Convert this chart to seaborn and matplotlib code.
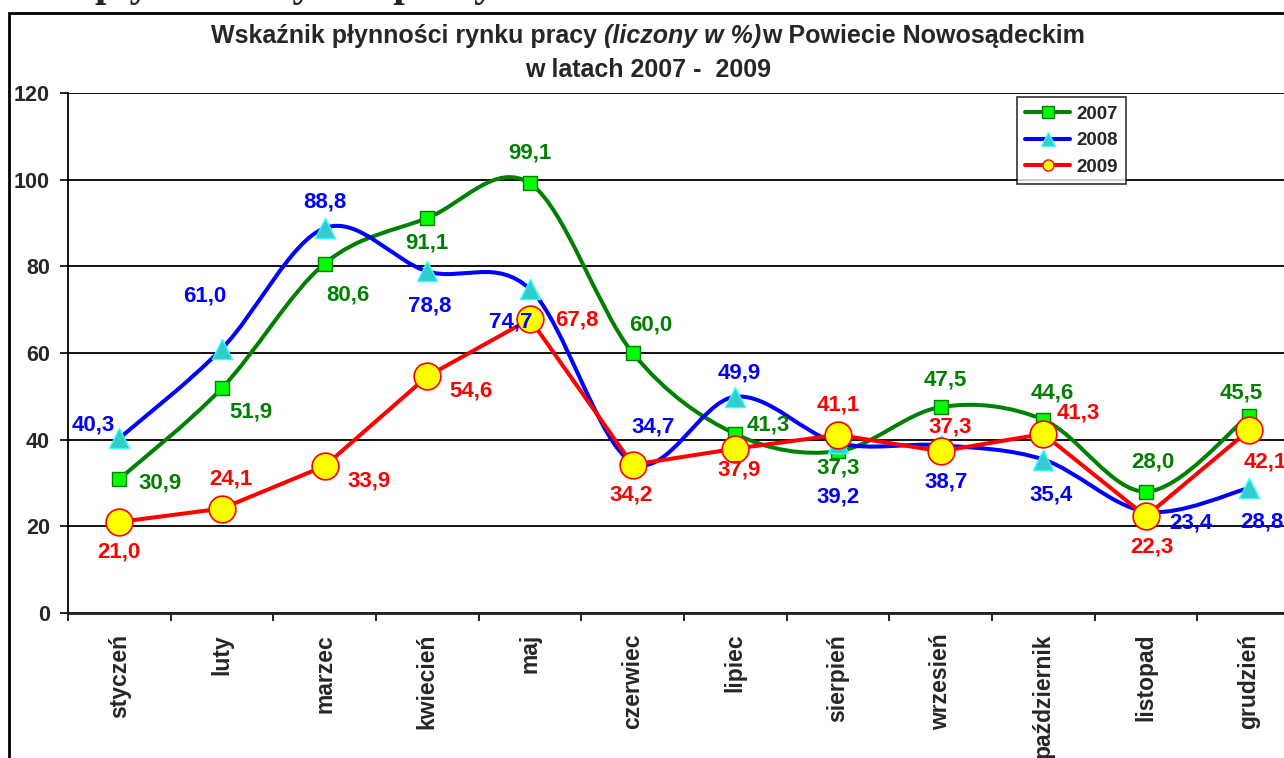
import matplotlib
matplotlib.use("Agg")
import matplotlib.pyplot as plt
from matplotlib.path import Path
from matplotlib.patches import PathPatch, Rectangle
from matplotlib.lines import Line2D
from matplotlib.transforms import IdentityTransform
import numpy as np
import pandas as pd
import seaborn as sns

months = ["styczeń", "luty", "marzec", "kwiecień", "maj", "czerwiec",
          "lipiec", "sierpień", "wrzesień", "październik", "listopad", "grudzień"]
v2007 = [30.9, 51.9, 80.6, 91.1, 99.1, 60.0, 41.3, 37.3, 47.5, 44.6, 28.0, 45.5]
v2008 = [40.3, 61.0, 88.8, 78.8, 74.7, 34.7, 49.9, 39.2, 38.7, 35.4, 23.4, 28.8]
v2009 = [21.0, 24.1, 33.9, 54.6, 67.8, 34.2, 37.9, 41.1, 37.3, 41.3, 22.3, 42.1]
yticks = [0, 20, 40, 60, 80, 100, 120]

# label offsets from the point, pixels (dx right, dy down)
off2007 = [(41, 4), (29, 24), (23, 31), (0, 25), (0, -30), (18, -28),
           (33, -9), (0, 17), (5, -27), (9, -27), (7, -30), (-7, -23)]
off2008 = [(-26, -13), (-17, -53), (0, -26), (2, 35), (-19, 33), (20, -36),
           (4, -24), (0, 54), (5, 37), (8, 35), (45, 11), (13, 34)]
off2009 = [(0, 30), (9, -30), (44, 15), (44, 15), (47, 1), (-2, 30),
           (4, 21), (0, -30), (9, -24), (35, -21), (6, 31), (17, 32)]

sns.set_style("white")
plt.rcParams['font.family'] = ['Liberation Sans', 'DejaVu Sans']

W, H = 1284, 758
fig = plt.figure(figsize=(W / 100, H / 100), dpi=100)
ax = fig.add_axes([68 / W, 1 - 613 / H, 1232 / W, (613 - 92.8) / H])

xs = np.arange(len(months))
df = pd.DataFrame({"pos": xs, "2007": v2007, "2008": v2008, "2009": v2009})

GREEN, BLUE, RED = "#008000", "#0000ff", "#ff0000"


def smooth_path(x, y):
    # excel-like smoothed line (catmull-rom as bezier)
    pts = np.column_stack([x, y]).astype(float)
    n = len(pts)
    verts = [pts[0]]
    codes = [Path.MOVETO]
    for i in range(n - 1):
        p0, p1 = pts[max(i - 1, 0)], pts[i]
        p2, p3 = pts[i + 1], pts[min(i + 2, n - 1)]
        verts += [p1 + (p2 - p0) / 6, p2 - (p3 - p1) / 6, p2]
        codes += [Path.CURVE4] * 3
    return Path(verts, codes)


ax.add_patch(PathPatch(smooth_path(df["pos"], df["2007"]), fill=False,
                       edgecolor=GREEN, lw=2.9, zorder=2))
sns.scatterplot(data=df, x="pos", y="2007", marker="s", s=100, color="#00ff00",
                edgecolor=GREEN, linewidth=1, ax=ax, zorder=2.1)

ax.add_patch(PathPatch(smooth_path(df["pos"], df["2008"]), fill=False,
                       edgecolor=BLUE, lw=2.9, zorder=3))
sns.scatterplot(data=df, x="pos", y="2008", marker="^", s=210, color="#33cccc",
                edgecolor="#33ffff", linewidth=1, ax=ax, zorder=3.1)

sns.lineplot(data=df, x="pos", y="2009", color=RED, lw=2.9, ax=ax, zorder=4)
sns.scatterplot(data=df, x="pos", y="2009", marker="o", s=370, color="#ffff00",
                edgecolor=RED, linewidth=1.2, ax=ax, zorder=4.1)

for vals, offs, col in [(v2007, off2007, GREEN), (v2008, off2008, BLUE), (v2009, off2009, RED)]:
    for i, (v, (dx, dy)) in enumerate(zip(vals, offs)):
        ax.annotate(f"{v:.1f}".replace(".", ","), (i, v), xytext=(dx, -dy),
                    textcoords="offset pixels", ha="center", va="center",
                    fontsize=16, fontweight="bold", color=col, zorder=6,
                    annotation_clip=False)

ax.set_xlim(-0.5, 11.5)
ax.set_ylim(0, 120)
ax.set_xlabel("")
ax.set_ylabel("")
ax.set_xticks(np.arange(-0.5, 12, 1))
ax.set_xticklabels([])
ax.set_xticks(xs, minor=True)
ax.set_xticklabels(months, minor=True, rotation=90, fontsize=16.5, fontweight="bold")
ax.tick_params(axis="x", which="major", direction="out", length=6, width=1.2,
               color="black", bottom=True)
ax.tick_params(axis="x", which="minor", length=0, pad=15, bottom=True)
ax.set_yticks(yticks)
ax.set_yticklabels([str(t) for t in yticks], fontsize=15.5, fontweight="bold")
ax.tick_params(axis="y", direction="out", length=6, width=1.2, color="black",
               pad=7, left=True)
ax.yaxis.grid(True, color="black", lw=1.3)
ax.xaxis.grid(False)
ax.set_axisbelow(True)
for s in ["top", "right"]:
    ax.spines[s].set_visible(False)
ax.spines["left"].set_color("black")
ax.spines["left"].set_linewidth(1.3)
ax.spines["bottom"].set_color("#222222")
ax.spines["bottom"].set_linewidth(2)

handles = [
    Line2D([], [], color=GREEN, lw=2.9, marker="s", ms=8, mfc="#00ff00", mec=GREEN),
    Line2D([], [], color=BLUE, lw=2.9, marker="^", ms=10, mfc="#33cccc", mec="#33ffff"),
    Line2D([], [], color=RED, lw=2.9, marker="o", ms=8, mfc="#ffff00", mec=RED),
]
leg = ax.legend(handles, ["2007", "2008", "2009"], loc="upper left",
                bbox_to_anchor=(1017 / W, 1 - 97 / H), bbox_transform=fig.transFigure,
                borderaxespad=0, fancybox=False, frameon=True, handlelength=2.4,
                handletextpad=0.3, labelspacing=0.5, borderpad=0.45,
                prop={"weight": "bold", "size": 13.5})
leg.get_frame().set_edgecolor("black")
leg.get_frame().set_linewidth(1.2)
leg.set_zorder(10)

# outer chart border (cut off at the right and bottom)
fig.add_artist(Rectangle((9 / W, -0.1), 1.2, 1.1 - 13 / H, transform=fig.transFigure,
                         fill=False, edgecolor="black", lw=2, clip_on=False))

# heading of the page above, mostly cut off
fig.text(95 / W, 1 + 4 / H, "płynności rynku pracy", family="Liberation Serif",
         fontweight="bold", fontsize=30, va="baseline", ha="left")

# title with italic part
fig.canvas.draw()
r = fig.canvas.get_renderer()
parts = [("Wskaźnik płynności rynku pracy ", "normal"), ("(liczony w %)", "italic"),
         ("w Powiecie Nowosądeckim", "normal")]
tobjs = [fig.text(0, 0, s, fontsize=18, fontweight="bold", style=st,
                  transform=IdentityTransform(), va="baseline") for s, st in parts]
widths = [t.get_window_extent(r).width for t in tobjs]
x0 = 648 - sum(widths) / 2
for t, w in zip(tobjs, widths):
    t.set_position((x0, H - 43))
    x0 += w
fig.text(648, H - 77, "w latach 2007 -  2009", fontsize=18, fontweight="bold",
         transform=IdentityTransform(), va="baseline", ha="center")

fig.savefig("out.png", dpi=100)
